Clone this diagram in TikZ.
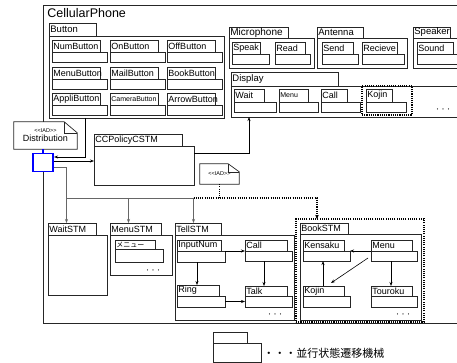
\documentclass[tikz,border=0pt]{standalone}
\usepackage{fontspec}
\setmainfont{Liberation Sans}
\newfontfamily\cjk{Noto Sans CJK JP}
\usetikzlibrary{positioning,arrows.meta,calc}

\tikzset{
  box/.style={draw=black!85, line width=0.7pt, fill=white, inner sep=0pt, outer sep=0pt, anchor=north west},
  dotbox/.style={dots, inner sep=0pt, outer sep=0pt, anchor=north west},
  lbl/.style={inner sep=1.2pt, anchor=west, font=\fontsize{9}{10}\selectfont},
  grp/.style={font=\fontsize{9.5}{11}\selectfont},
  tiny/.style={font=\fontsize{7}{8}\selectfont},
  note/.style={fill=white, inner sep=0pt, align=center, font=\fontsize{9}{10}\selectfont},
  noteline/.style={draw=black!85, line width=0.7pt},
  more/.style={font=\cjk\fontsize{5.5}{6}\selectfont, inner sep=0pt},
  arr/.style={-{Stealth[length=4pt,width=3pt]}, line width=0.6pt},
  garr/.style={arr, draw=black!60},
  dots/.style={draw=black, line width=1.1pt, dash pattern=on 1.1pt off 1.1pt},
}

% tab + body of a state
\newcommand{\statebox}[9][]{%
  \node[box, minimum width=#5pt, minimum height=#6pt] (#2-tab) at (#3,#4) {};
  \node[lbl, #1] (#2-lbl) at (#2-tab.west) {#9};
  \node[box, minimum width=#7pt, minimum height=#8pt] (#2) at (#2-tab.south west) {};
}

\begin{document}
\begin{tikzpicture}[x=1pt,y=-1pt]
\clip (0,0) rectangle (457,363);

% whole phone
\node[box, minimum width=420pt, minimum height=318pt] (phone) at (43,5) {};
\node[lbl, font=\fontsize{12.5}{14}\selectfont] (phone-lbl) at (46,13.5) {CellularPhone};

% buttons
\statebox[grp]{button}{49}{23}{47}{13}{175}{82}{Button}
\foreach \n/\x/\y/\s in {NumButton/52/40/9, OnButton/110/40/9, OffButton/167/40/9,
    MenuButton/52/67/9, MailButton/110/67/9, BookButton/167/67/9,
    AppliButton/52/93/9, CameraButton/110/93/7, ArrowButton/167/93/9}{
  \statebox{\n}{\x}{\y}{48}{12}{55}{10}{\fontsize{\s}{\s}\selectfont\n}
}

% microphone, antenna, speaker
\statebox[font=\fontsize{10}{11}\selectfont]{mic}{229}{27}{59}{11}{85}{30}{Microphone}
\statebox{Speak}{232}{42}{28}{12}{37}{10}{Speak}
\statebox{Read}{275}{42}{30}{12}{35}{10}{Read}
\statebox[grp]{antenna}{317}{27}{46}{11}{90}{30}{Antenna}
\statebox{Send}{322}{42}{31}{12}{36}{10}{Send}
\statebox{Recieve}{362}{42}{35}{12}{42}{10}{Recieve}
\statebox[grp]{speaker}{413}{27}{37}{11}{50}{30}{Speaker}
\statebox{Sound}{417}{42}{36}{12}{45}{10}{Sound}

% display
\statebox[grp]{display}{231}{72}{107}{14}{230}{31}{Display}
\statebox{Wait}{234}{89}{30}{13}{42}{10}{Wait}
\statebox[tiny]{DMenu}{279}{89}{29}{13}{39}{10}{Menu}
\statebox{DCall}{321}{89}{26}{13}{39}{10}{Call}
\statebox{DKojin}{366}{89}{26}{13}{40}{10}{Kojin}
\node[dotbox, minimum width=50pt, minimum height=29pt] (kojinsel) at (362,86) {};
\node[more] (dispmore) at (443,110) {・・・};

% distribution note and port
\node[note, minimum width=63pt, minimum height=27pt] (dist) at (45.5,135.5)
  {{\fontsize{5.5}{6}\selectfont <{}<IAD>{}>}\\[-1pt]Distribution};
\draw[noteline] (dist.north west) -- ([xshift=-13pt]dist.north east)
  -- ([yshift=-11pt]dist.north east) -- (dist.south east) -- (dist.south west) -- cycle;
\draw[noteline, line width=0.5pt] ([xshift=-13pt]dist.north east)
  -- ([xshift=-13pt,yshift=-11pt]dist.north east) -- ([yshift=-11pt]dist.north east);
\node[draw=blue, line width=1.6pt, fill=white, minimum width=20.5pt, minimum height=18pt, inner sep=0pt] (port) at (43,162.5) {};
\draw[blue, line width=1.2pt] (dist.south -| port.north) -- (port.north);

% policy
\statebox{ccp}{94}{134}{88}{12}{100}{39}{CCPolicyCSTM}

\node[note, minimum width=39pt, minimum height=20pt] (iad) at (219.5,174)
  {\raisebox{-4pt}{\fontsize{5.5}{6}\selectfont <{}<IAD>{}>}};
\draw[noteline] (iad.north west) -- ([xshift=-11pt]iad.north east)
  -- ([yshift=-8pt]iad.north east) -- (iad.south east) -- (iad.south west) -- cycle;
\draw[noteline, line width=0.5pt] ([xshift=-11pt]iad.north east)
  -- ([xshift=-11pt,yshift=-8pt]iad.north east) -- ([yshift=-8pt]iad.north east);

% concurrent machines
\statebox{WaitSTM}{48}{223}{48}{12}{59}{60}{WaitSTM}
\statebox{MenuSTM}{110}{223}{51}{12}{62}{40}{MenuSTM}
\statebox[font=\cjk\fontsize{7}{8}\selectfont]{menuitem}{115}{240}{40}{9}{48}{13}{メニュー}
\node[more] (menumore) at (153,271) {・・・};

\statebox{TellSTM}{175}{223}{46}{12}{119}{85}{TellSTM}
\statebox{InputNum}{177}{240}{44}{11}{48}{11}{InputNum}
\statebox{TCall}{245}{240}{42}{11}{47}{10}{Call}
\statebox{Ring}{177}{285}{42}{11}{48}{11}{Ring}
\statebox{Talk}{245}{286}{42}{10}{47}{11}{Talk}
\node[more] (tellmore) at (275,315) {・・・};

\node[dotbox, minimum width=128pt, minimum height=103pt] (bookarea) at (296,219) {};
\statebox{BookSTM}{300}{223}{48}{11}{121}{86}{BookSTM}
\statebox{Kensaku}{303}{240}{41}{11}{47}{10}{Kensaku}
\statebox{BMenu}{371}{240}{41}{11}{46}{10}{Menu}
\statebox{Kojin}{303}{286}{41}{10}{47}{11}{Kojin}
\statebox{Touroku}{371}{286}{41}{10}{46}{11}{Touroku}
\node[more] (bookmore) at (403,315) {・・・};

% legend
\statebox{legend}{213}{332}{34}{11}{48}{19}{}
\node[lbl, font=\cjk\fontsize{11}{12}\selectfont] (legend-text) at (262,353) {・・・並行状態遷移機械};

% connectors
\draw[arr] ([xshift=36pt]button.south west) |- ([yshift=5.5pt]port.east);
\draw[arr] ([yshift=1.5pt]port.east) -- ([yshift=1.5pt]port.east -| ccp.west);
\draw[arr] ([yshift=12.5pt]ccp.east) -| ([xshift=18pt]display.south west);

\foreach \s in {WaitSTM,MenuSTM,TellSTM}
  \coordinate (\s-in) at ([xshift=18.5pt]\s-tab.north west);
\coordinate (fork) at (66.5,198);
\draw[garr] ([yshift=-4.5pt]port.east) -| (WaitSTM-in);
\draw[garr, -] (fork) -- (fork -| TellSTM-in);
\draw[garr] (fork -| MenuSTM-in) -- (MenuSTM-in);
\draw[garr] (fork -| TellSTM-in) -- (TellSTM-in);
\draw[dots] (iad.south) -- (iad.south |- fork);
\draw[dots, -{Stealth[length=4pt,width=3.5pt]}] (fork -| TellSTM-in) -| ([xshift=21pt]bookarea.north west);

\draw[arr] (InputNum.north east) -- (InputNum.north east -| TCall.west);
\draw[arr] ([xshift=20pt]InputNum.south west) -- ([xshift=20pt]InputNum.south west |- Ring-tab.north);
\draw[arr] ([xshift=19pt]TCall.south west) -- ([xshift=19pt]TCall.south west |- Talk-tab.north);
\draw[arr] (Ring.east) -- (Ring.east -| Talk.west);

\draw[arr, {Stealth[length=4pt,width=3pt]}-] (Kensaku.north east) -- (Kensaku.north east -| BMenu.west);
\draw[arr, {Stealth[length=4pt,width=3pt]}-] ([xshift=20pt]Kensaku.south west) -- ([xshift=20pt]Kensaku.south west |- Kojin-tab.north);
\draw[arr] ([xshift=-3pt,yshift=3pt]BMenu.south west) -- ([xshift=-13pt,yshift=3pt]Kojin-tab.north east);
\draw[arr] ([xshift=20pt]BMenu.south west) -- ([xshift=20pt]BMenu.south west |- Touroku-tab.north);
\end{tikzpicture}
\end{document}
